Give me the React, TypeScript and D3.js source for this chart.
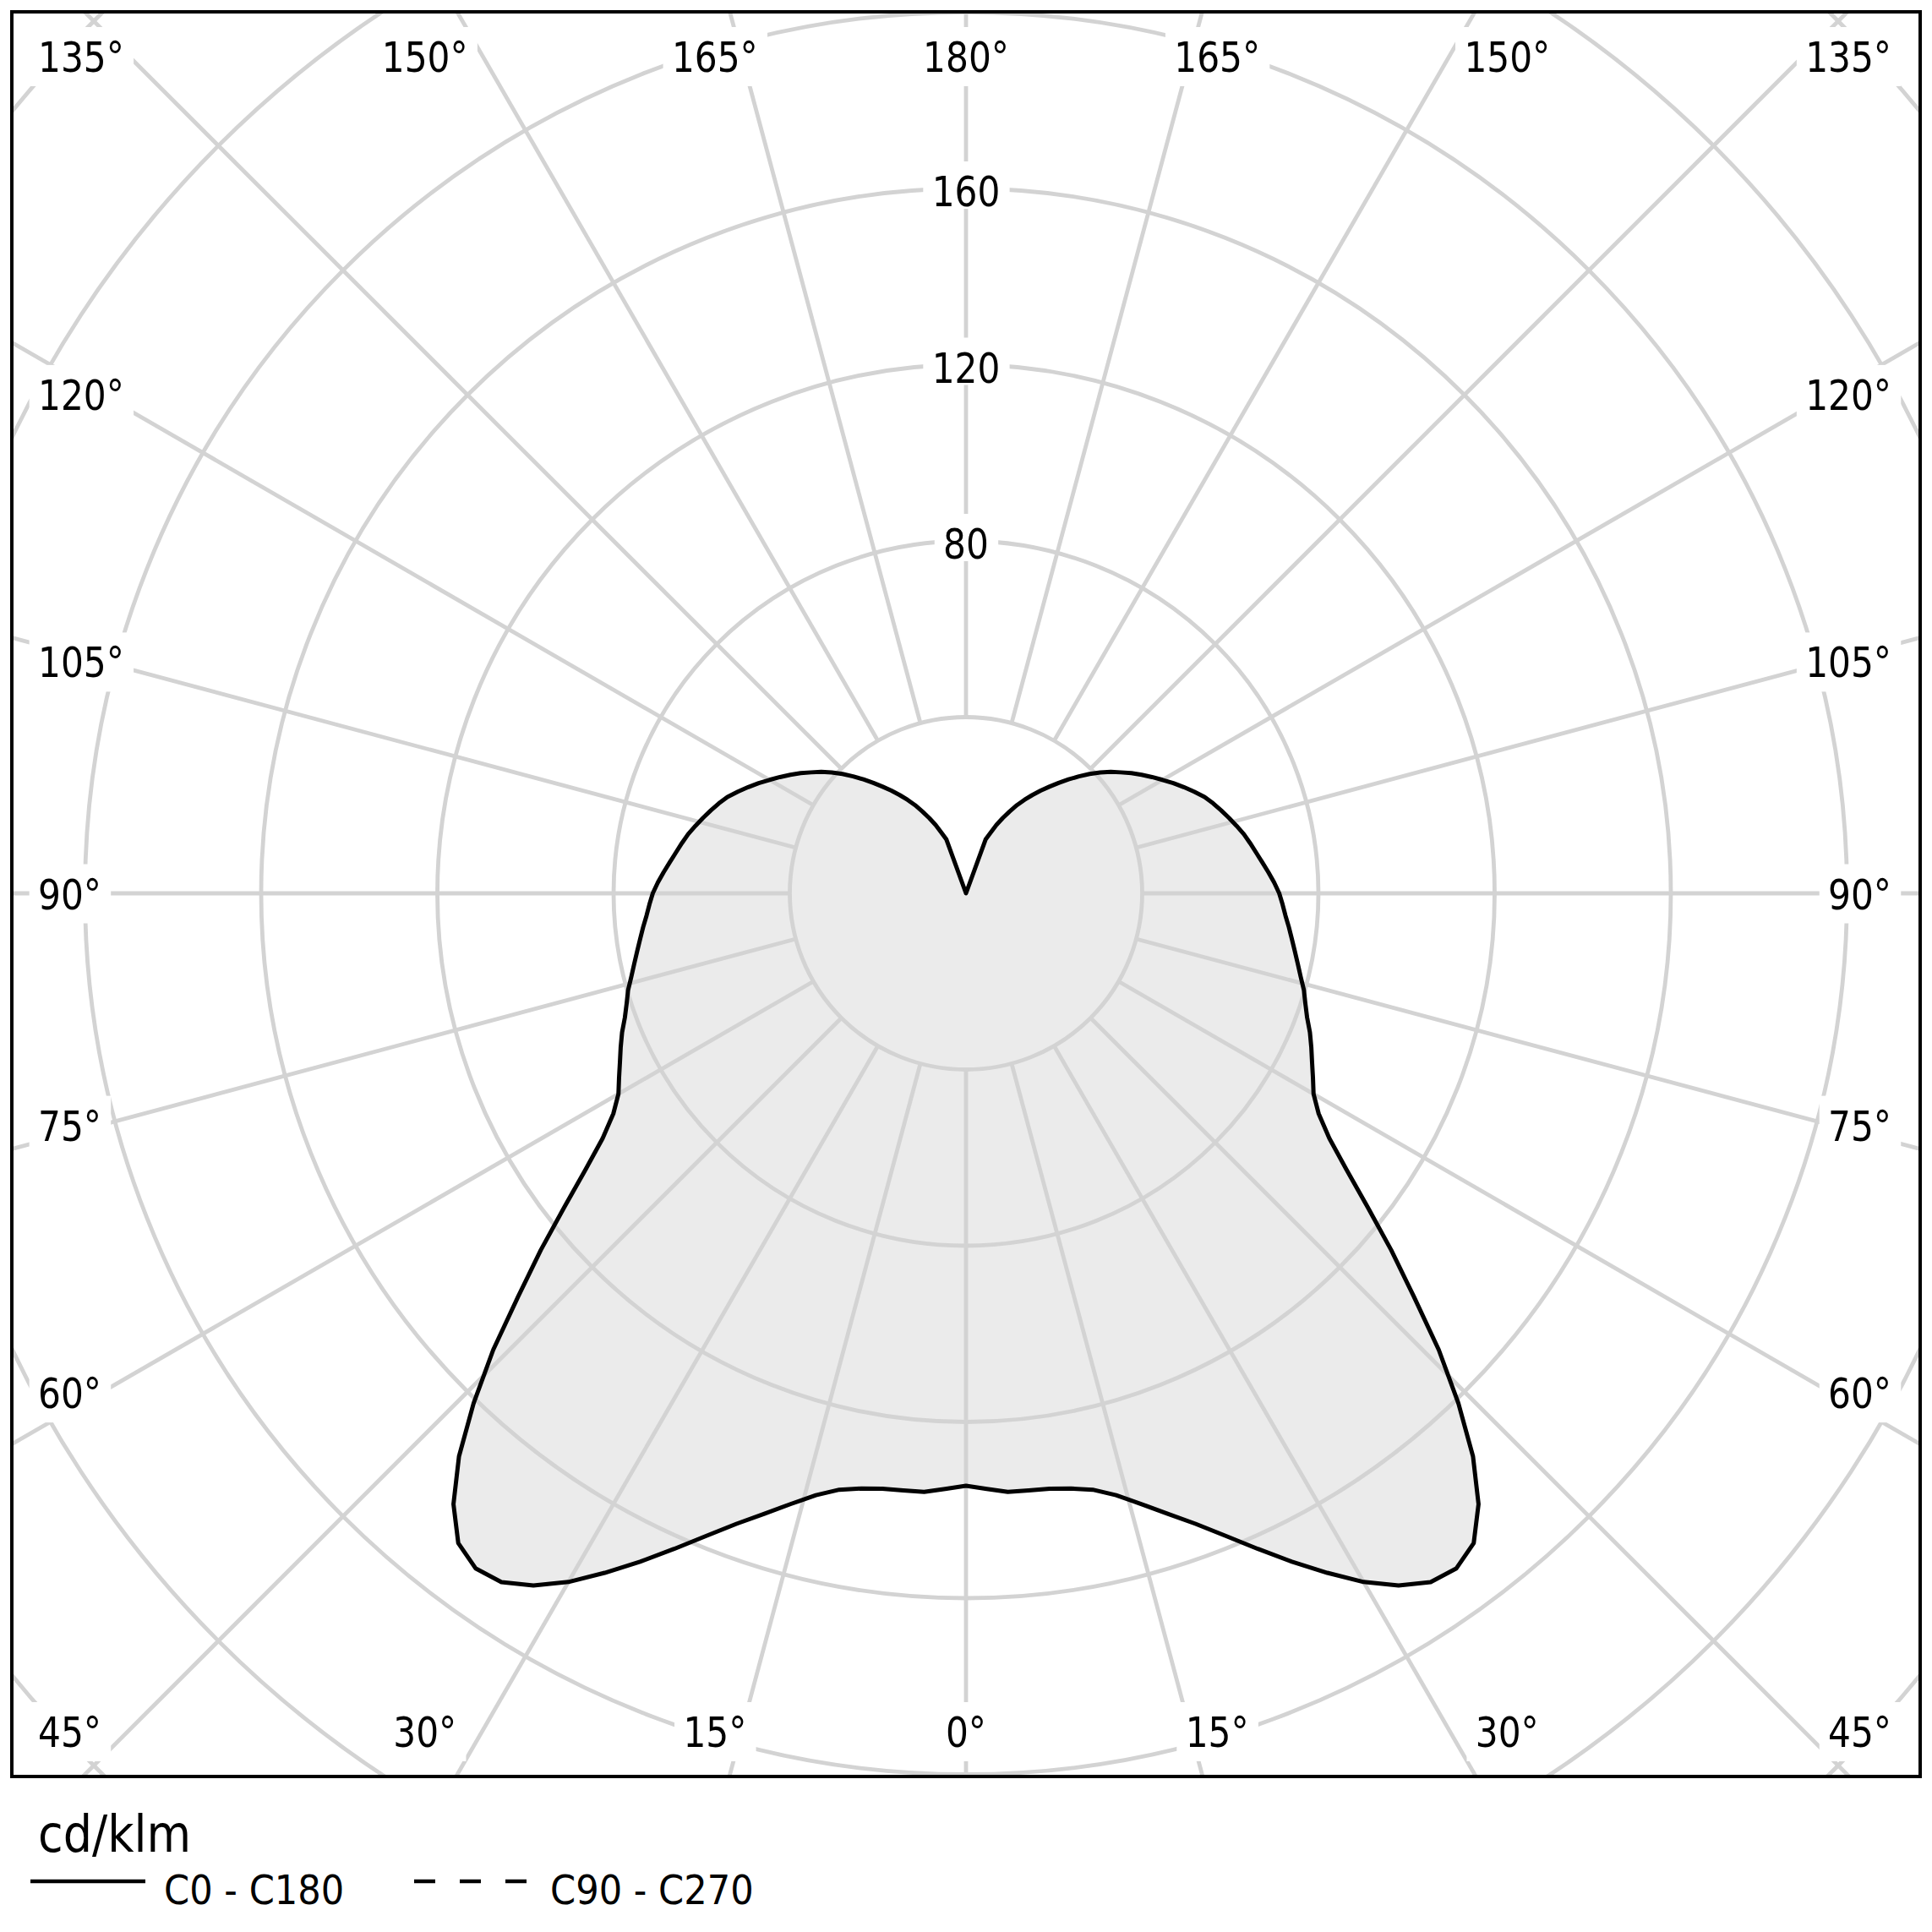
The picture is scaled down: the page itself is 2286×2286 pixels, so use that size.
import React, { useEffect, useRef } from 'react';
import * as d3 from 'd3';

// gamma angles (deg) of the measured intensity curve
const gammaAngles = d3.range(0, 181, 2);

// cd/klm, C0 half plane (0..180)
const intensityC0 = [
  134.5, 135.3, 136.2, 136.3, 136.5, 137.2, 138.4, 140.8, 144.2, 148.1,
  152.3, 157.3, 162.9, 168.8, 174.7, 180.5, 185.3, 188.6, 189.4, 187.2,
  181.0, 172.0, 160.9, 149.2, 136.8, 126.0, 115.7, 106.8, 99.5, 94.4,
  91.1, 89.2, 87.4, 85.8, 84.2, 82.4, 81.0, 79.8, 78.3, 77.0,
  75.8, 74.7, 73.7, 72.7, 71.9, 71.1, 70.0, 68.8, 67.6, 66.5,
  65.5, 64.5, 63.3, 62.1, 60.9, 59.7, 58.4, 56.7, 55.0, 53.3,
  51.5, 49.8, 48.1, 46.4, 44.6, 42.9, 41.0, 39.0, 36.9, 34.8,
  32.7, 30.7, 28.8, 26.9, 25.0, 23.1, 21.0, 19.0, 17.0, 14.8,
  13.0, 0, 0, 0, 0, 0, 0, 0, 0, 0,
  0,
];
// C180 half plane is the same as C0 for this luminaire
const intensityC180 = intensityC0;

const ringValues = [40, 80, 120, 160, 200, 240, 280];
const ringLabels = [80, 120, 160];
const spokeAngles = d3.range(0, 360, 15);

const legendItems = [
  { label: 'C0 - C180', dash: null },
  { label: 'C90 - C270', dash: '25 29' },
];
const unitLabel = 'cd/klm';

const W = 2286;
const H = 2286;
const FONT = "'DejaVu Sans Condensed', 'DejaVu Sans', sans-serif";
const SX = 0.94;
const GRID = '#d3d3d3';

const App: React.FC = () => {
  const svgRef = useRef<SVGSVGElement>(null);

  useEffect(() => {
    const svg = d3.select(svgRef.current);
    svg.selectAll('*').remove();

    const frame = { x: 14, y: 14, w: 2258, h: 2088 };
    const cx = frame.x + frame.w / 2;
    const cy = 1057;
    const r = d3.scaleLinear().domain([0, 40]).range([0, 208.5]);
    const rad = (d: number) => (d * Math.PI) / 180;

    svg.append('rect').attr('width', W).attr('height', H).attr('fill', '#fff');

    svg.append('defs').append('clipPath').attr('id', 'frameClip')
      .append('rect')
      .attr('x', frame.x).attr('y', frame.y)
      .attr('width', frame.w).attr('height', frame.h);

    const plot = svg.append('g').attr('clip-path', 'url(#frameClip)');
    const centre = plot.append('g').attr('transform', `translate(${cx},${cy})`);

    // polar points, 0 deg pointing down
    const pts = [
      ...gammaAngles.map((g, i) => ({ a: Math.PI - rad(g), v: intensityC0[i] })),
      ...gammaAngles.slice().reverse().map((g, i) => ({
        a: Math.PI + rad(g),
        v: intensityC180[gammaAngles.length - 1 - i],
      })),
    ];
    const line = d3.lineRadial<{ a: number; v: number }>()
      .angle(d => d.a)
      .radius(d => r(d.v))
      .curve(d3.curveLinearClosed);

    centre.append('path')
      .attr('d', line(pts))
      .attr('fill', '#ebebeb')
      .attr('stroke', 'none');

    // grid
    centre.selectAll('circle.ring')
      .data(ringValues)
      .join('circle')
      .attr('class', 'ring')
      .attr('r', d => r(d))
      .attr('fill', 'none')
      .attr('stroke', GRID)
      .attr('stroke-width', 4.8);

    centre.selectAll('line.spoke')
      .data(spokeAngles)
      .join('line')
      .attr('class', 'spoke')
      .attr('x1', s => r(40) * Math.sin(rad(s)))
      .attr('y1', s => r(40) * Math.cos(rad(s)))
      .attr('x2', s => r(340) * Math.sin(rad(s)))
      .attr('y2', s => r(340) * Math.cos(rad(s)))
      .attr('stroke', GRID)
      .attr('stroke-width', 4.8);

    centre.append('path')
      .attr('d', line(pts))
      .attr('fill', 'none')
      .attr('stroke', '#000')
      .attr('stroke-width', 5)
      .attr('stroke-linejoin', 'round');

    // labels with white boxes
    const measure = (txt: string, size: number) => {
      const t = svg.append('text').attr('font-family', FONT).attr('font-size', size).text(txt);
      const w = (t.node() as SVGTextElement).getBBox().width * SX;
      t.remove();
      return w;
    };
    const addLabel = (x: number, y: number, txt: string, anchor: string, padBottom: number) => {
      const g = svg.append('g').attr('transform', `translate(${x},${y}) scale(${SX},1)`);
      const box = g.append('rect').attr('fill', '#fff');
      const t = g.append('text')
        .attr('text-anchor', anchor)
        .attr('font-family', FONT)
        .attr('font-size', 50)
        .attr('fill', '#000')
        .text(txt);
      const bb = (t.node() as SVGTextElement).getBBox();
      box.attr('x', bb.x - 11).attr('y', -53)
        .attr('width', bb.width + 23).attr('height', 53 + padBottom);
    };

    ringLabels.forEach(v => addLabel(cx, cy - r(v) + 21, String(v), 'middle', 3));

    const leftLim = 45;
    const rightLim = 2238;
    spokeAngles.forEach(s => {
      const v = s <= 180 ? s : 360 - s;
      const side = s === 0 || s === 180 ? 0 : s < 180 ? 1 : -1;
      const txt = `${v}°`;
      if (v <= 45 || v >= 135) {
        const fromVert = v <= 45 ? v : 180 - v;
        const base = v <= 45 ? 2067 : 85;
        const x = cx + side * 1109 * Math.tan(rad(fromVert));
        const w = measure(txt, 50);
        if (x - w / 2 < leftLim) addLabel(leftLim, base, txt, 'start', 17);
        else if (x + w / 2 > rightLim) addLabel(rightLim, base, txt, 'end', 17);
        else addLabel(x, base, txt, 'middle', 17);
      } else {
        const y = cy - 1023 * Math.tan(rad(v - 90)) + 18.5;
        if (side < 0) addLabel(leftLim, y, txt, 'start', 17);
        else addLabel(rightLim, y, txt, 'end', 17);
      }
    });

    svg.append('rect')
      .attr('x', frame.x).attr('y', frame.y)
      .attr('width', frame.w).attr('height', frame.h)
      .attr('fill', 'none')
      .attr('stroke', '#000')
      .attr('stroke-width', 4);

    // legend
    svg.append('text')
      .attr('x', 45).attr('y', 2191)
      .attr('font-family', FONT).attr('font-size', 60)
      .text(unitLabel);

    const lineStarts = [36, 490];
    const lineEnds = [172, 624];
    const textStarts = [194, 651];
    legendItems.forEach((it, i) => {
      svg.append('line')
        .attr('x1', lineStarts[i]).attr('x2', lineEnds[i])
        .attr('y1', 2226).attr('y2', 2226)
        .attr('stroke', '#000')
        .attr('stroke-width', 4.5)
        .attr('stroke-dasharray', it.dash);
      svg.append('text')
        .attr('x', textStarts[i]).attr('y', 2253)
        .attr('font-family', FONT).attr('font-size', 48)
        .text(it.label);
    });
  }, []);

  return (
    <div style={{ position: 'absolute', left: 0, top: 0 }}>
      <svg ref={svgRef} width={W} height={H} style={{ display: 'block' }} />
    </div>
  );
};

export default App;
